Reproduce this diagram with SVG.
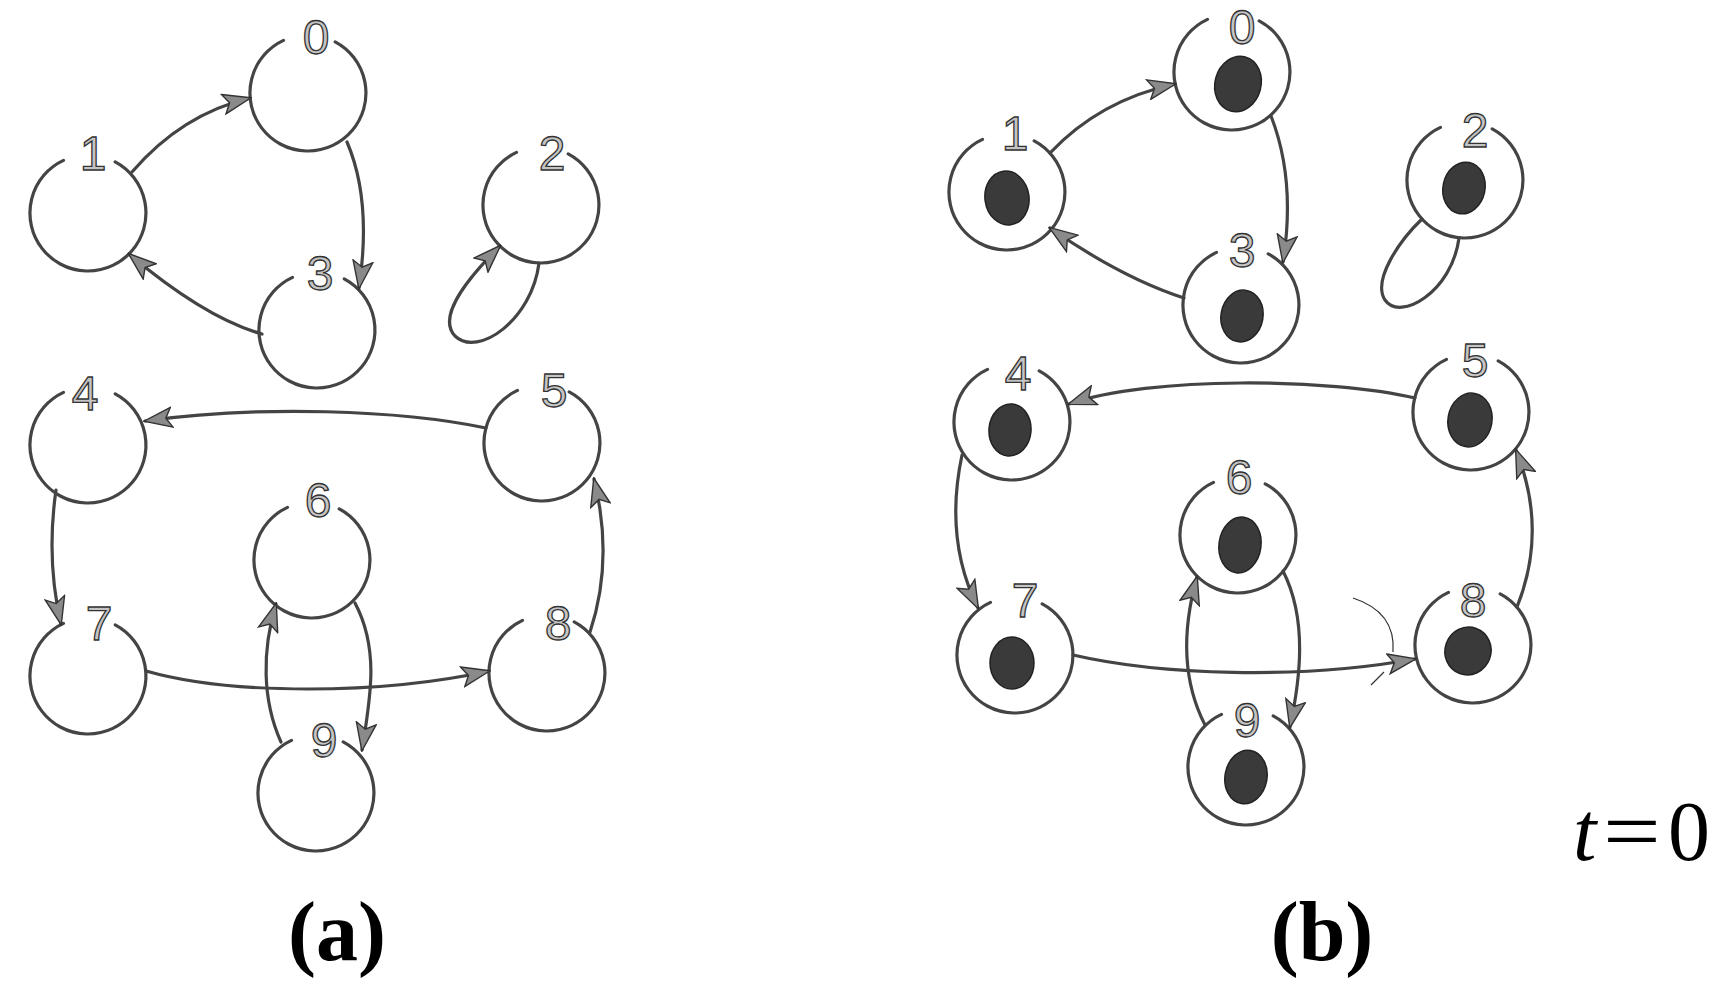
<svg xmlns="http://www.w3.org/2000/svg" width="1727" height="990" viewBox="0 0 1727 990">
<style>
.ring{fill:none;stroke:#444;stroke-width:3.2;stroke-linecap:round}
.edge{fill:none;stroke:#444;stroke-width:3.2;stroke-linecap:round}
.thin{fill:none;stroke:#333;stroke-width:1.2}
.lbl{font-family:"Liberation Sans",Arial,sans-serif;font-size:48px;fill:#c4c4c4;stroke:#333;stroke-width:1.3;text-anchor:middle}
.blob{fill:#3a3a3a;stroke:#222;stroke-width:1.5}
.cap{font-family:"Liberation Serif","Times New Roman",serif;font-weight:bold;font-size:84px;fill:#000;text-anchor:middle}
.math{font-family:"Liberation Serif","Times New Roman",serif;font-size:84px;fill:#000}
</style>
<defs>
<marker id="ah" markerUnits="userSpaceOnUse" markerWidth="30" markerHeight="22" viewBox="0 0 30 22" refX="28" refY="11" orient="auto">
<path d="M1,1 L29,11 L1,21 L7,11 z" fill="#8a8a8a" stroke="#333" stroke-width="1.4"/>
</marker>
</defs>
<rect width="1727" height="990" fill="#fff"/>

<!-- Panel (a) nodes -->
<g id="a-n0"><path class="ring" d="M335.2,41.8 A58,58 0 1 1 283.5,40.4"/><text class="lbl" x="316" y="54">0</text></g>
<g id="a-n1"><path class="ring" d="M115.2,161.8 A58,58 0 1 1 63.5,160.4"/><text class="lbl" x="93" y="170">1</text></g>
<g id="a-n2"><path class="ring" d="M568.2,153.8 A58,58 0 1 1 516.5,152.4"/><text class="lbl" x="552" y="170">2</text></g>
<g id="a-n3"><path class="ring" d="M344.2,278.8 A58,58 0 1 1 292.5,277.4"/><text class="lbl" x="320" y="290">3</text></g>
<g id="a-n4"><path class="ring" d="M115.2,393.8 A58,58 0 1 1 63.5,392.4"/><text class="lbl" x="85" y="410">4</text></g>
<g id="a-n5"><path class="ring" d="M569.2,391.8 A58,58 0 1 1 517.5,390.4"/><text class="lbl" x="554" y="407">5</text></g>
<g id="a-n6"><path class="ring" d="M339.2,508.8 A58,58 0 1 1 287.5,507.4"/><text class="lbl" x="318" y="517">6</text></g>
<g id="a-n7"><path class="ring" d="M115.2,624.8 A58,58 0 1 1 63.5,623.4"/><text class="lbl" x="99" y="640">7</text></g>
<g id="a-n8"><path class="ring" d="M574.2,621.8 A58,58 0 1 1 522.5,620.4"/><text class="lbl" x="558" y="640">8</text></g>
<g id="a-n9"><path class="ring" d="M343.2,741.8 A58,58 0 1 1 291.5,740.4"/><text class="lbl" x="324" y="757">9</text></g>

<!-- Panel (b) nodes -->
<g id="b-n0"><path class="ring" d="M1259.2,20.8 A58,58 0 1 1 1207.5,19.4"/><ellipse class="blob" cx="1238" cy="84" rx="23" ry="28" transform="rotate(15 1238 84)"/><text class="lbl" x="1242" y="44">0</text></g>
<g id="b-n1"><path class="ring" d="M1034.2,140.8 A58,58 0 1 1 982.5,139.4"/><ellipse class="blob" cx="1007" cy="198" rx="22" ry="27" transform="rotate(-8 1007 198)"/><text class="lbl" x="1015" y="150">1</text></g>
<g id="b-n2"><path class="ring" d="M1492.2,128.8 A58,58 0 1 1 1440.5,127.4"/><ellipse class="blob" cx="1464" cy="188" rx="21" ry="26" transform="rotate(12 1464 188)"/><text class="lbl" x="1475" y="147">2</text></g>
<g id="b-n3"><path class="ring" d="M1268.2,253.8 A58,58 0 1 1 1216.5,252.4"/><ellipse class="blob" cx="1242" cy="316" rx="21" ry="26" transform="rotate(10 1242 316)"/><text class="lbl" x="1242" y="267">3</text></g>
<g id="b-n4"><path class="ring" d="M1039.2,370.8 A58,58 0 1 1 987.5,369.4"/><ellipse class="blob" cx="1010" cy="430" rx="21" ry="26" transform="rotate(5 1010 430)"/><text class="lbl" x="1018" y="390">4</text></g>
<g id="b-n5"><path class="ring" d="M1498.2,360.8 A58,58 0 1 1 1446.5,359.4"/><ellipse class="blob" cx="1470" cy="420" rx="22" ry="27" transform="rotate(10 1470 420)"/><text class="lbl" x="1475" y="377">5</text></g>
<g id="b-n6"><path class="ring" d="M1265.2,483.8 A58,58 0 1 1 1213.5,482.4"/><ellipse class="blob" cx="1240" cy="545" rx="21" ry="28" transform="rotate(8 1240 545)"/><text class="lbl" x="1239" y="494">6</text></g>
<g id="b-n7"><path class="ring" d="M1042.2,603.8 A58,58 0 1 1 990.5,602.4"/><ellipse class="blob" cx="1012" cy="663" rx="22" ry="26"/><text class="lbl" x="1025" y="617">7</text></g>
<g id="b-n8"><path class="ring" d="M1500.2,593.8 A58,58 0 1 1 1448.5,592.4"/><ellipse class="blob" cx="1468" cy="651" rx="23" ry="24" transform="rotate(20 1468 651)"/><text class="lbl" x="1473" y="617">8</text></g>
<g id="b-n9"><path class="ring" d="M1273.2,715.8 A58,58 0 1 1 1221.5,714.4"/><ellipse class="blob" cx="1246" cy="777" rx="21" ry="27" transform="rotate(10 1246 777)"/><text class="lbl" x="1247" y="737">9</text></g>

<!-- Connectors -->
<g id="connectors">
<path class="edge" marker-end="url(#ah)" d="M132,172 Q182,114 250,98"/>
<path class="edge" marker-end="url(#ah)" d="M347,142 Q372,200 359,288"/>
<path class="edge" marker-end="url(#ah)" d="M262,334 Q205,318 129,254"/>
<path class="edge" marker-end="url(#ah)" d="M539,263 C532,320 478,358 455,336 C438,318 462,284 500,246"/>
<path class="edge" marker-end="url(#ah)" d="M486,428 C400,410 260,405 145,421"/>
<path class="edge" marker-end="url(#ah)" d="M56,490 Q46,560 61,624"/>
<path class="edge" marker-end="url(#ah)" d="M146,671 C230,695 380,695 489,671"/>
<path class="edge" marker-end="url(#ah)" d="M590,632 Q614,560 594,479"/>
<path class="edge" marker-end="url(#ah)" d="M355,603 C380,650 370,700 362,750"/>
<path class="edge" marker-end="url(#ah)" d="M281,742 C262,700 262,650 276,604"/>

<path class="edge" marker-end="url(#ah)" d="M1050,153 Q1100,100 1175,84"/>
<path class="edge" marker-end="url(#ah)" d="M1271,116 Q1296,180 1283,262"/>
<path class="edge" marker-end="url(#ah)" d="M1184,298 Q1122,278 1050,228"/>
<path class="edge" d="M1459,238 C1452,292 1400,322 1385,300 C1372,280 1400,240 1422,219"/>
<path class="edge" marker-end="url(#ah)" d="M1415,398 C1330,378 1150,376 1069,404"/>
<path class="edge" marker-end="url(#ah)" d="M962,455 Q944,540 978,608"/>
<path class="edge" marker-end="url(#ah)" d="M1073,655 C1160,675 1300,680 1415,659"/>
<path class="edge" marker-end="url(#ah)" d="M1517,607 Q1548,530 1516,450"/>
<path class="edge" marker-end="url(#ah)" d="M1283,571 C1308,620 1300,680 1290,727"/>
<path class="edge" marker-end="url(#ah)" d="M1205,725 C1182,680 1182,630 1197,577"/>
<path class="thin" d="M1353,598 Q1396,612 1393,652"/>
<path class="thin" d="M1384,672 L1371,685"/>
</g>

<!-- Captions -->
<text class="cap" x="337" y="960">(a)</text>
<text class="cap" x="1322" y="960">(b)</text>
<text class="math" x="1573" y="860" font-style="italic">t</text>
<text class="math" transform="translate(1603,860) scale(1.22,1)" x="0" y="0">=</text>
<text class="math" x="1668" y="860">0</text>
</svg>
